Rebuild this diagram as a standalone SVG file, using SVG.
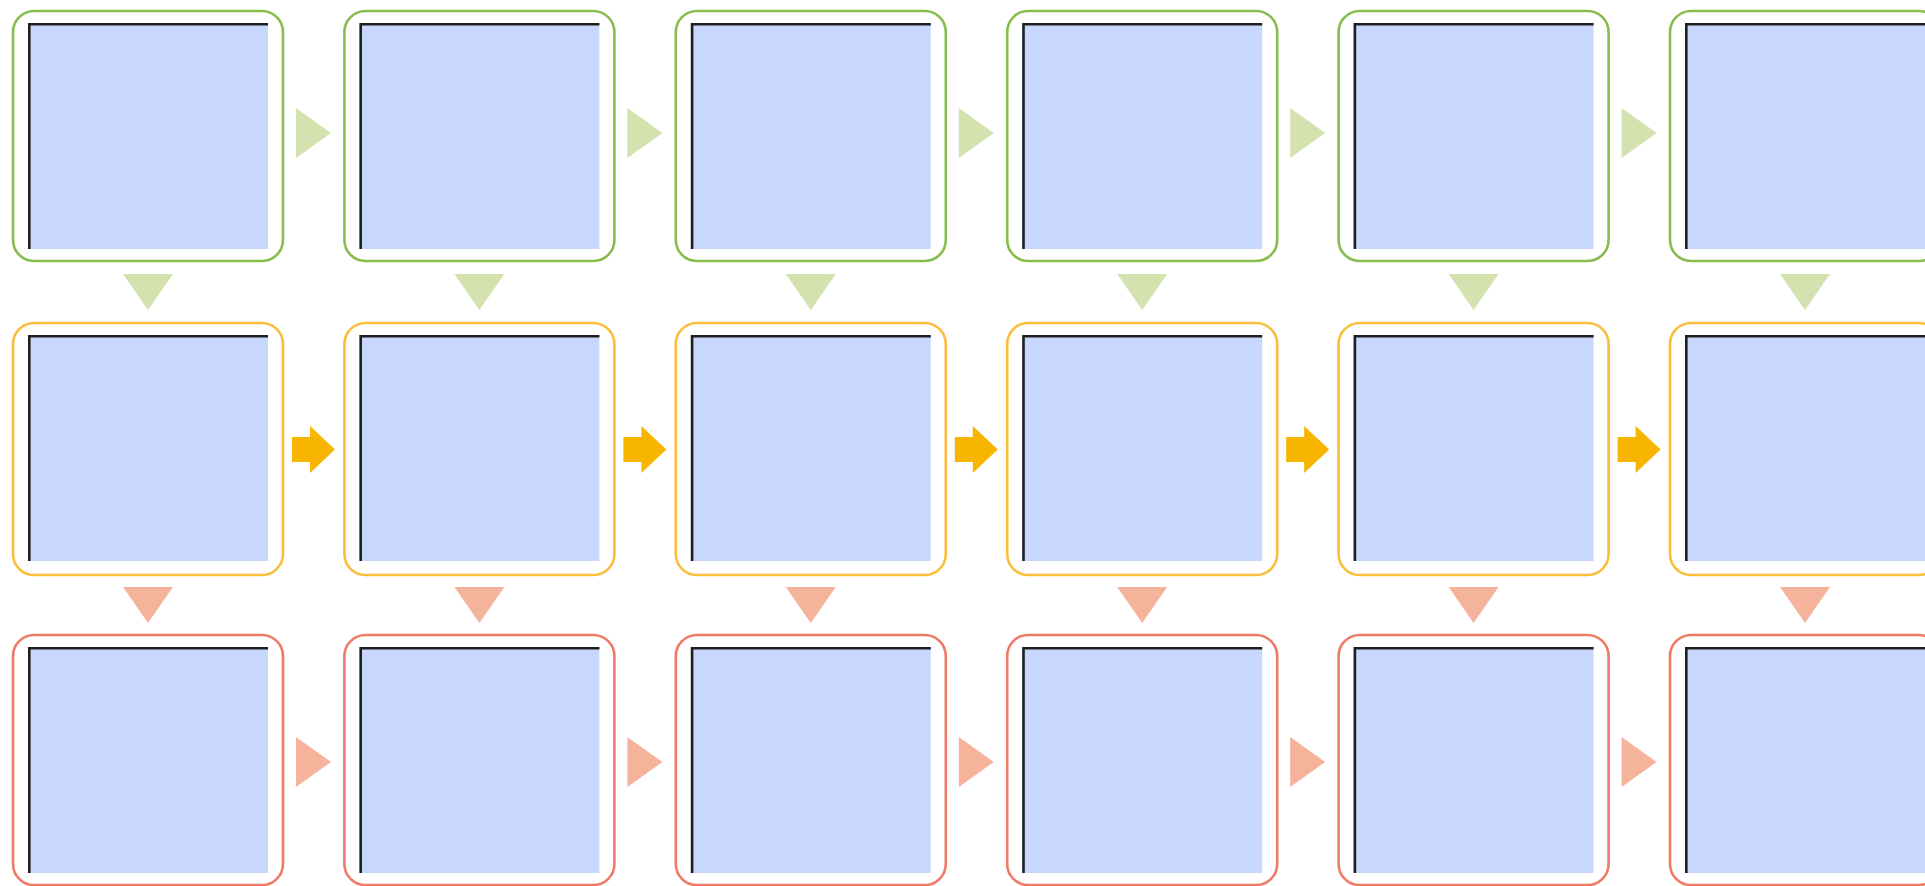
<svg xmlns="http://www.w3.org/2000/svg" xmlns:xlink="http://www.w3.org/1999/xlink" width="1925" height="886" viewBox="0 0 1925 886">
<style>
.box{fill:#fff;stroke-width:2.6}
.g{stroke:#86bd4e}
.o{stroke:#fbbd3a}
.r{stroke:#ef7a65}
.in{fill:#c8d7fe}
.ln{fill:none;stroke:#1e1e1e;stroke-width:2.6}
.tg{fill:#d3e2ae}
.tr{fill:#f5b39c}
.ar{fill:#f8b500}
</style>
<defs>
<g id="node">
<rect class="in" x="15" y="12" width="240" height="226"/>
<path class="ln" d="M16.3,238 V13.3 H255"/>
</g>
<polygon id="triR" points="0,0 35,25 0,50"/>
<polygon id="triD" points="0,0 50,0 25,36"/>
<polygon id="blk" points="0,11 18,11 18,0 43,23.5 18,47 18,36 0,36"/>
</defs>
<rect width="1925" height="886" fill="#fff"/>
<g id="nodes">
<g id="n1-1" transform="translate(13,11)"><rect class="box g" x="0" y="0" width="270" height="250" rx="21"/><use xlink:href="#node"/></g>
<g id="n1-2" transform="translate(344.4,11)"><rect class="box g" x="0" y="0" width="270" height="250" rx="21"/><use xlink:href="#node"/></g>
<g id="n1-3" transform="translate(675.8,11)"><rect class="box g" x="0" y="0" width="270" height="250" rx="21"/><use xlink:href="#node"/></g>
<g id="n1-4" transform="translate(1007.2,11)"><rect class="box g" x="0" y="0" width="270" height="250" rx="21"/><use xlink:href="#node"/></g>
<g id="n1-5" transform="translate(1338.6,11)"><rect class="box g" x="0" y="0" width="270" height="250" rx="21"/><use xlink:href="#node"/></g>
<g id="n1-6" transform="translate(1670,11)"><rect class="box g" x="0" y="0" width="270" height="250" rx="21"/><use xlink:href="#node"/></g>
<g id="n2-1" transform="translate(13,323)"><rect class="box o" x="0" y="0" width="270" height="252" rx="21"/><use xlink:href="#node"/></g>
<g id="n2-2" transform="translate(344.4,323)"><rect class="box o" x="0" y="0" width="270" height="252" rx="21"/><use xlink:href="#node"/></g>
<g id="n2-3" transform="translate(675.8,323)"><rect class="box o" x="0" y="0" width="270" height="252" rx="21"/><use xlink:href="#node"/></g>
<g id="n2-4" transform="translate(1007.2,323)"><rect class="box o" x="0" y="0" width="270" height="252" rx="21"/><use xlink:href="#node"/></g>
<g id="n2-5" transform="translate(1338.6,323)"><rect class="box o" x="0" y="0" width="270" height="252" rx="21"/><use xlink:href="#node"/></g>
<g id="n2-6" transform="translate(1670,323)"><rect class="box o" x="0" y="0" width="270" height="252" rx="21"/><use xlink:href="#node"/></g>
<g id="n3-1" transform="translate(13,635)"><rect class="box r" x="0" y="0" width="270" height="250" rx="21"/><use xlink:href="#node"/></g>
<g id="n3-2" transform="translate(344.4,635)"><rect class="box r" x="0" y="0" width="270" height="250" rx="21"/><use xlink:href="#node"/></g>
<g id="n3-3" transform="translate(675.8,635)"><rect class="box r" x="0" y="0" width="270" height="250" rx="21"/><use xlink:href="#node"/></g>
<g id="n3-4" transform="translate(1007.2,635)"><rect class="box r" x="0" y="0" width="270" height="250" rx="21"/><use xlink:href="#node"/></g>
<g id="n3-5" transform="translate(1338.6,635)"><rect class="box r" x="0" y="0" width="270" height="250" rx="21"/><use xlink:href="#node"/></g>
<g id="n3-6" transform="translate(1670,635)"><rect class="box r" x="0" y="0" width="270" height="250" rx="21"/><use xlink:href="#node"/></g>
</g>
<g id="connectors">
<use xlink:href="#triR" class="tg" x="296" y="108"/>
<use xlink:href="#triR" class="tg" x="627.4" y="108"/>
<use xlink:href="#triR" class="tg" x="958.8" y="108"/>
<use xlink:href="#triR" class="tg" x="1290.2" y="108"/>
<use xlink:href="#triR" class="tg" x="1621.6" y="108"/>
<use xlink:href="#triD" class="tg" x="123" y="274"/>
<use xlink:href="#triD" class="tg" x="454.4" y="274"/>
<use xlink:href="#triD" class="tg" x="785.8" y="274"/>
<use xlink:href="#triD" class="tg" x="1117.2" y="274"/>
<use xlink:href="#triD" class="tg" x="1448.6" y="274"/>
<use xlink:href="#triD" class="tg" x="1780" y="274"/>
<use xlink:href="#blk" class="ar" x="292" y="426"/>
<use xlink:href="#blk" class="ar" x="623.4" y="426"/>
<use xlink:href="#blk" class="ar" x="954.8" y="426"/>
<use xlink:href="#blk" class="ar" x="1286.2" y="426"/>
<use xlink:href="#blk" class="ar" x="1617.6" y="426"/>
<use xlink:href="#triD" class="tr" x="123" y="587"/>
<use xlink:href="#triD" class="tr" x="454.4" y="587"/>
<use xlink:href="#triD" class="tr" x="785.8" y="587"/>
<use xlink:href="#triD" class="tr" x="1117.2" y="587"/>
<use xlink:href="#triD" class="tr" x="1448.6" y="587"/>
<use xlink:href="#triD" class="tr" x="1780" y="587"/>
<use xlink:href="#triR" class="tr" x="296" y="737"/>
<use xlink:href="#triR" class="tr" x="627.4" y="737"/>
<use xlink:href="#triR" class="tr" x="958.8" y="737"/>
<use xlink:href="#triR" class="tr" x="1290.2" y="737"/>
<use xlink:href="#triR" class="tr" x="1621.6" y="737"/>
</g>
</svg>
